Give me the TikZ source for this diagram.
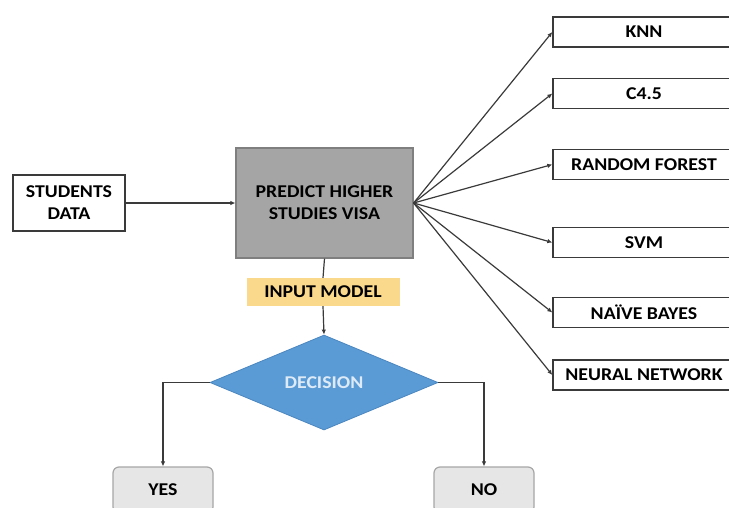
\documentclass[tikz,border=0pt]{standalone}
\usepackage{fontspec}
\setmainfont{Carlito}[FakeStretch=1.1]
\usetikzlibrary{shapes.geometric,arrows.meta}
\definecolor{lineclr}{HTML}{3A3A3A}
\definecolor{procgray}{HTML}{A5A5A5}
\definecolor{procedge}{HTML}{7F7F7F}
\definecolor{inputfill}{HTML}{FAD98C}
\definecolor{decfill}{HTML}{5B9BD5}
\definecolor{decedge}{HTML}{4A86C0}
\definecolor{dectext}{HTML}{DEEBF7}
\definecolor{outfill}{HTML}{E7E6E6}
\definecolor{outedge}{HTML}{A6A6A6}
\tikzset{
  lbl/.style={font=\fontsize{18}{22}\selectfont\bfseries, text=black, align=center, inner sep=0pt},
  plainbox/.style={lbl, draw=lineclr, line width=1.3pt, fill=white},
  algbox/.style={plainbox, minimum width=182pt, minimum height=30pt},
  procbox/.style={lbl, draw=procedge, line width=1.2pt, fill=procgray, minimum width=177pt, minimum height=110pt},
  inbox/.style={lbl, fill=inputfill, minimum width=153pt, minimum height=28pt},
  decbox/.style={lbl, text=dectext, shape=diamond, draw=decedge, line width=0.8pt, fill=decfill, minimum width=228pt, minimum height=95pt, aspect=2.4},
  outbox/.style={lbl, draw=outedge, line width=1.2pt, fill=outfill, rounded corners=6pt, minimum width=100pt, minimum height=46pt},
  conn/.style={draw=lineclr, line width=1.2pt},
  arr/.style={conn, -{Latex[length=5pt,width=4.5pt]}}
}
\begin{document}
\begin{tikzpicture}[x=1pt, y=-1pt]
  \useasboundingbox (0,0) rectangle (729,507);
  \clip (0,0) rectangle (729,507);

  % input and main process
  \node[plainbox, minimum width=112pt, minimum height=56pt] (sd) at (69,203) {STUDENTS\\DATA};
  \node[procbox] (pv) at (324.5,203) {PREDICT HIGHER\\STUDIES VISA};
  \node[inbox] (im) at (323,292) {INPUT MODEL};
  \node[decbox] (dec) at (324,382.5) {DECISION};

  % outcomes
  \node[outbox] (yes) at (163,490) {YES};
  \node[outbox] (no) at (484,490) {NO};

  % candidate classifiers
  \node[algbox] (knn) at (644,32) {KNN};
  \node[algbox] (c45) at (644,93.5) {C4.5};
  \node[algbox] (rf)  at (644,164.5) {RANDOM FOREST};
  \node[algbox] (svm) at (644,242.5) {SVM};
  \node[algbox] (nb)  at (644,312.5) {NAÏVE BAYES};
  \node[algbox] (nn)  at (644,375) {NEURAL NETWORK};

  % connectors
  \draw[arr] (sd.east) -- (pv.west);
  \draw[conn] (pv.south) -- (im.north);
  \draw[arr] (im.south) -- (dec.north);
  \draw[arr] (dec.west) -| (yes.north);
  \draw[arr] (dec.east) -| (no.north);
  \foreach \t in {knn,c45,rf,svm,nb,nn}
    \draw[arr] (pv.east) -- (\t.west);
\end{tikzpicture}
\end{document}
